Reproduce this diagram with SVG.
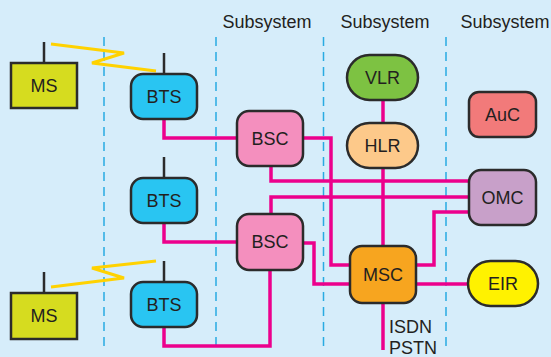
<svg xmlns="http://www.w3.org/2000/svg" width="551" height="357" viewBox="0 0 551 357">
<style>
text{font-family:"Liberation Sans",Arial,sans-serif;fill:#231f20;}
.lbl{font-size:18px;text-anchor:middle;dominant-baseline:central;}
.hdr{font-size:18px;text-anchor:middle;}
.node{stroke:#2b2b2b;stroke-width:2.5;}
.ant{stroke:#2b2b2b;stroke-width:2.5;fill:none;}
.dash{stroke:#29abe2;stroke-width:1.5;stroke-dasharray:9 6;fill:none;}
.wire{stroke:#ec008c;stroke-width:3.5;fill:none;stroke-linejoin:miter;}
.zap{stroke:#ffd200;stroke-width:3;fill:none;}
</style>
<rect x="0" y="0" width="551" height="357" fill="#d6edfa"/>
<g id="dividers">
<line class="dash" x1="104" y1="37" x2="104" y2="350"/>
<line class="dash" x1="216" y1="37" x2="216" y2="350"/>
<line class="dash" x1="323.5" y1="37" x2="323.5" y2="350"/>
<line class="dash" x1="446" y1="37" x2="446" y2="350"/>
</g>
<g id="headers">
<text class="hdr" x="267" y="28">Subsystem</text>
<text class="hdr" x="385" y="28">Subsystem</text>
<text class="hdr" x="505" y="28">Subsystem</text>
</g>
<g id="radio">
<polyline class="zap" points="51,44 124,53 92,63 156,71"/>
<polyline class="zap" points="51,287 124,278 92,268 156,261"/>
</g>
<g id="connectors">
<polyline class="wire" points="164,119 164,138 237,138"/>
<polyline class="wire" points="164,223 164,242 237,242"/>
<polyline class="wire" points="164,327 164,346 270,346 270,270"/>
<polyline class="wire" points="303,138 331,138 331,265 350,265"/>
<polyline class="wire" points="271,166 271,181 469,181"/>
<polyline class="wire" points="271,214 271,197 469,197"/>
<polyline class="wire" points="303,243 314,243 314,284 350,284"/>
<polyline class="wire" points="469,212 434,212 434,265 416,265"/>
<line class="wire" x1="416" y1="284" x2="468" y2="284"/>
<line class="wire" x1="383" y1="100" x2="383" y2="123"/>
<line class="wire" x1="383" y1="168" x2="383" y2="246"/>
<line class="wire" x1="383" y1="303" x2="383" y2="350"/>
</g>
<g id="ms1">
<line class="ant" x1="44" y1="42" x2="44" y2="63"/>
<rect class="node" x="11" y="63" width="66" height="45" fill="#d6dc1f"/>
<text class="lbl" x="44" y="86">MS</text>
</g>
<g id="ms2">
<line class="ant" x1="44" y1="272" x2="44" y2="293"/>
<rect class="node" x="11" y="293" width="66" height="46" fill="#d6dc1f"/>
<text class="lbl" x="44" y="316">MS</text>
</g>
<g id="bts1">
<line class="ant" x1="164" y1="53" x2="164" y2="74"/>
<rect class="node" x="131" y="74" width="66" height="45" rx="12" fill="#29c5f2"/>
<text class="lbl" x="164" y="97">BTS</text>
</g>
<g id="bts2">
<line class="ant" x1="164" y1="157" x2="164" y2="178"/>
<rect class="node" x="131" y="178" width="66" height="45" rx="12" fill="#29c5f2"/>
<text class="lbl" x="164" y="201">BTS</text>
</g>
<g id="bts3">
<line class="ant" x1="164" y1="261" x2="164" y2="282"/>
<rect class="node" x="131" y="282" width="66" height="45" rx="12" fill="#29c5f2"/>
<text class="lbl" x="164" y="305">BTS</text>
</g>
<g id="bsc1">
<rect class="node" x="237" y="111" width="66" height="55" rx="12" fill="#f48fbe"/>
<text class="lbl" x="270" y="139">BSC</text>
</g>
<g id="bsc2">
<rect class="node" x="237" y="214" width="66" height="56" rx="12" fill="#f48fbe"/>
<text class="lbl" x="270" y="242">BSC</text>
</g>
<g id="vlr">
<rect class="node" x="347" y="55" width="71" height="45" rx="22.5" fill="#7dc242"/>
<text class="lbl" x="382.5" y="78">VLR</text>
</g>
<g id="hlr">
<rect class="node" x="347" y="123" width="71" height="45" rx="22.5" fill="#fdc98a"/>
<text class="lbl" x="382.5" y="146">HLR</text>
</g>
<g id="msc">
<rect class="node" x="350" y="246" width="66" height="57" rx="12" fill="#f7a51f"/>
<text class="lbl" x="383" y="275">MSC</text>
</g>
<g id="auc">
<rect class="node" x="469" y="92" width="67" height="45" rx="10" fill="#f27a7a"/>
<text class="lbl" x="502.5" y="115">AuC</text>
</g>
<g id="omc">
<rect class="node" x="469" y="170" width="67" height="55" rx="12" fill="#c8a0c9"/>
<text class="lbl" x="502.5" y="198">OMC</text>
</g>
<g id="eir">
<rect class="node" x="468" y="261" width="70" height="45" rx="22.5" fill="#fff200"/>
<text class="lbl" x="503" y="284">EIR</text>
</g>
<g id="network">
<text x="389" y="333" style="font-size:18px">ISDN</text>
<text x="389" y="354" style="font-size:18px">PSTN</text>
</g>
</svg>
